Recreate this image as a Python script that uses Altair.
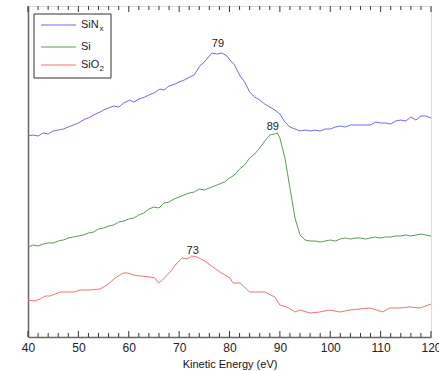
import altair as alt
import pandas as pd

# SiNx spectrum (kinetic energy eV, intensity a.u.)
sinx_x = [40, 41, 42, 43, 44, 45, 46, 47, 48, 49, 50, 51.3, 52, 53, 54.3, 55, 56, 57, 58, 59,
          60.2, 61, 62, 63.2, 64, 65, 66.2, 67, 68, 69.2, 70, 71, 72.1, 73, 74.1, 75, 76, 76.5,
          77.5, 78.5, 79.5, 80.1, 81, 82.1, 83, 84, 85, 86, 87, 88, 89, 90, 91, 92, 93, 94, 95,
          96, 97, 98, 99, 100, 101, 102, 103, 104, 105, 106, 107, 108, 109, 110, 111, 112, 113,
          114, 115, 116, 117, 118, 119, 120]
sinx_y = [201, 202, 201, 204, 203, 206, 207, 208, 210, 212, 214, 218, 219, 222, 225, 227, 229, 231, 230, 234,
          237, 235, 238, 240, 242, 244, 248, 247, 251, 253, 255, 257, 260, 262, 271, 275, 281, 284,
          283, 284, 281, 277, 272, 261, 255, 245, 240, 237, 233, 230, 227, 223, 215, 210, 208, 206, 207,
          206, 207, 206, 208, 208, 210, 211, 210, 212, 212, 212, 212, 212, 215, 214, 214, 213, 216,
          217, 216, 220, 217, 221, 221, 219]

# Si spectrum
si_x = [40, 41, 42, 43, 44, 45, 46, 47, 48, 49, 50, 51, 52, 53, 54, 55, 56, 57, 58, 59, 60,
        61, 62, 63, 64, 65, 66, 67, 68, 69, 70, 71, 72, 73, 74, 75, 76, 77, 78, 79, 80, 81, 82,
        83, 84, 85, 86, 87, 88, 89, 89.5, 90, 91, 92, 93, 94, 95, 96, 97, 98, 99, 100, 101, 102,
        103, 104, 105, 106, 107, 108, 109, 110, 111, 112, 113, 114, 115, 116, 117, 118, 119, 120]
si_y = [90, 92, 91, 93, 94, 94, 96, 97, 99, 100, 101, 102, 104, 105, 108, 109, 111, 112, 115, 116, 118,
        119, 122, 124, 128, 130, 129, 134, 135, 138, 140, 142, 144, 145, 148, 147, 149, 151, 153, 155,
        159, 162, 168, 172, 179, 183, 189, 196, 202, 203, 204, 199, 179, 149, 119, 102, 97, 96, 96, 95,
        96, 97, 96, 98, 99, 98, 99, 99, 98, 99, 100, 99, 100, 100, 101, 101, 102, 101, 102, 103, 102, 101]

# SiO2 spectrum
sio2_x = [40, 41.4, 42.8, 43.4, 44.4, 46.4, 47.7, 49.3, 50.3, 52.3, 54.3, 55.7, 57.3, 58.9, 59.9,
          60.9, 62.3, 64.2, 65.2, 65.9, 66.7, 68.2, 69.6, 70.6, 71.6, 72.5, 73.5, 75.1, 76.7, 78.1,
          80.1, 80.7, 82.1, 84, 87, 89, 90, 91.4, 93, 94, 96, 97.9, 99.9, 101.9, 103.9, 105.9,
          107.9, 109.2, 110.4, 111.8, 113.8, 115.8, 117.8, 120]
sio2_y = [37, 36, 39, 41, 41, 45, 45, 45, 47, 47, 48, 52, 59, 64, 64,
          62, 61, 60, 59, 54, 57, 65, 74, 79, 78, 81, 80, 76, 70, 65,
          59, 54, 54, 45, 45, 40, 32, 30, 25, 27, 24, 25, 27, 25, 27, 28,
          29, 27, 25, 29, 29, 30, 29, 33]

peak_labels = ["79", "89", "73"]
peak_x = [77.7, 88.6, 72.7]
peak_y = [293, 210, 86]

tick_positions = list(range(40, 121, 2))
x_labels = [40, 50, 60, 70, 80, 90, 100, 110, 120]

c_blue, c_green, c_red = "#6a6af2", "#5a9a5a", "#f27272"

df = pd.concat([
    pd.DataFrame({"E": sinx_x, "I": sinx_y, "s": "SiNx"}),
    pd.DataFrame({"E": si_x, "I": si_y, "s": "Si"}),
    pd.DataFrame({"E": sio2_x, "I": sio2_y, "s": "SiO2"}),
])

xs = alt.Scale(domain=[40, 120], nice=False, zero=False)
ys = alt.Scale(domain=[0, 331], nice=False, zero=False)

lines = alt.Chart(df).mark_line(strokeWidth=1, interpolate="linear").encode(
    x=alt.X("E:Q", scale=xs, axis=alt.Axis(values=x_labels, title="Kinetic Energy (eV)", grid=False,
                                            ticks=False, labelFontSize=12, labelColor="#222",
                                            labelPadding=5, labelFlush=False, labelOverlap=False,
                                            titleFontSize=11, titleFontWeight="normal",
                                            titleColor="#111", titlePadding=5, domainColor="#666",
                                            domainWidth=1.5, labelFont="Liberation Sans",
                                            titleFont="Liberation Sans")),
    y=alt.Y("I:Q", scale=ys, axis=alt.Axis(labels=False, ticks=False, title=None, grid=False,
                                            domainColor="#666", domainWidth=1.5)),
    color=alt.Color("s:N", scale=alt.Scale(domain=["SiNx", "Si", "SiO2"], range=[c_blue, c_green, c_red]),
                    legend=None),
    detail="s:N",
)

pk = pd.DataFrame({"t": peak_labels, "E": peak_x, "I": peak_y})
peaks = alt.Chart(pk).mark_text(fontSize=11, color="#222", font="Liberation Sans").encode(
    x=alt.X("E:Q", scale=xs), y=alt.Y("I:Q", scale=ys), text="t:N")

tk = pd.DataFrame({"E": tick_positions})
tk["major"] = (tk["E"] % 10 == 0).astype(int)


def tick_layer(is_major, y0, y1):
    return alt.Chart(tk).transform_filter(f"datum.major == {is_major}").mark_rule(
        color="#333", strokeWidth=1).encode(
        x=alt.X("E:Q", scale=xs), y=alt.value(y0), y2=alt.value(y1))


tick_layers = [
    tick_layer(1, 331, 325), tick_layer(0, 331, 327),
    tick_layer(1, 0, 6), tick_layer(0, 0, 4),
]

one = pd.DataFrame({"a": [0]})
box = alt.Chart(one).mark_rect(fill="white", stroke="#333", strokeWidth=1).encode(
    x=alt.value(6), x2=alt.value(83), y=alt.value(8), y2=alt.value(72))

leg_names = ["SiN", "Si", "SiO"]
leg_subs = ["x", "", "2"]
leg_colors = [c_blue, c_green, c_red]
leg_rows = [19, 41, 59]
legend_layers = []
for name, sub, col, yy in zip(leg_names, leg_subs, leg_colors, leg_rows):
    legend_layers.append(alt.Chart(one).mark_rule(color=col, strokeWidth=1).encode(
        x=alt.value(13), x2=alt.value(48), y=alt.value(yy)))
    legend_layers.append(alt.Chart(one).mark_text(align="left", baseline="middle", fontSize=11,
                                                  color="#222", font="Liberation Sans", text=name).encode(
        x=alt.value(53), y=alt.value(yy)))
    if sub:
        legend_layers.append(alt.Chart(one).mark_text(align="left", baseline="middle", fontSize=8,
                                                      color="#222", font="Liberation Sans", text=sub).encode(
            x=alt.value(71.5), y=alt.value(yy + 4)))

chart = alt.layer(lines, peaks, *tick_layers, box, *legend_layers).properties(
    width=403, height=331,
    padding={"left": 28, "top": 6, "right": 8, "bottom": 34},
    autosize="none",
).configure_view(stroke="#444", strokeWidth=1).configure(background="white")

chart.save("out.html", embed_options={"renderer": "svg", "actions": False})
